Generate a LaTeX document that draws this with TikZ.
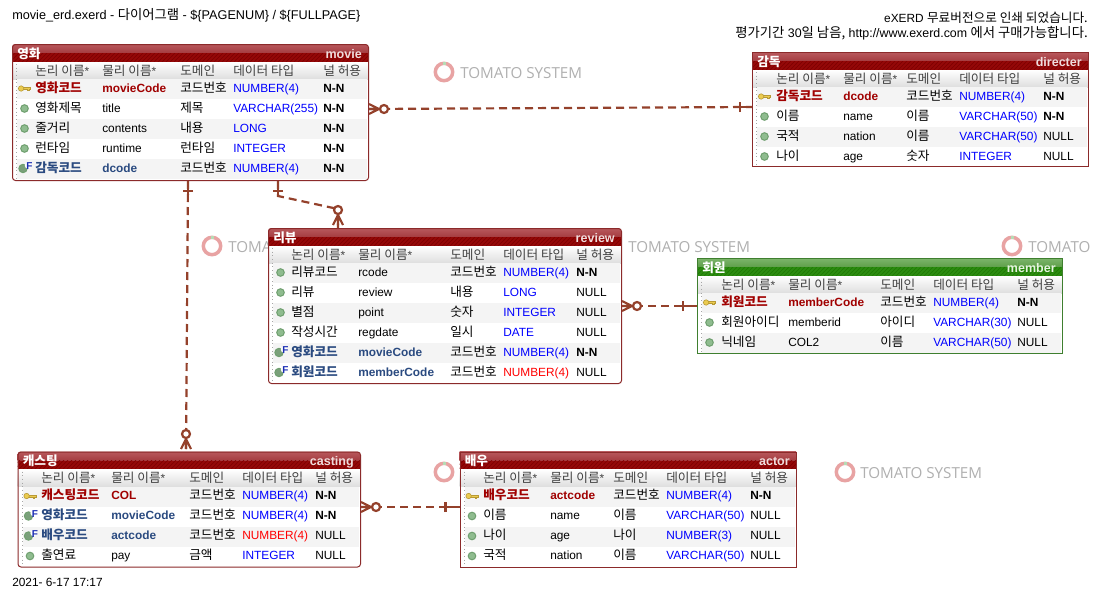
\documentclass[tikz,border=0pt]{standalone}
\usepackage{fontspec}
\setmainfont{Liberation Sans}
\newfontfamily\krfam{Noto Sans CJK KR}
\newfontfamily\wmfam{Open Sans}
\usetikzlibrary{patterns}
\newdimen\pxu \pxu=0.75pt
\newcommand{\K}[1]{{\krfam\fontsize{9.5}{11}\selectfont #1}}
\newcommand{\KB}[1]{{\krfam\fontsize{10}{11}\selectfont #1}}
\newcounter{tn}
\newcounter{rn}
\definecolor{relc}{HTML}{94412B}
\definecolor{pkc}{HTML}{A00000}
\definecolor{fkc}{HTML}{2A4A80}
\definecolor{hdc}{HTML}{404040}
\definecolor{rowc}{HTML}{F4F4F4}
\definecolor{wmc}{HTML}{B0B0B0}
\definecolor{ringc}{HTML}{E8A3A3}
\definecolor{ringg}{HTML}{B5DCB5}
\definecolor{goldc}{HTML}{EBCB50}
\definecolor{goldd}{HTML}{B89A35}
\definecolor{ballc}{HTML}{8FBC8F}
\definecolor{balld}{HTML}{6F9F6F}
\newcommand{\ThemeRed}{\definecolor{tTop}{HTML}{B8595D}\definecolor{tMid}{HTML}{A53C40}\definecolor{tLow}{HTML}{950808}\definecolor{tHatch}{HTML}{7C0000}\definecolor{tBorder}{HTML}{8B2A2A}\definecolor{tEn}{HTML}{F0DCDC}}
\newcommand{\ThemeGreen}{\definecolor{tTop}{HTML}{7CB56C}\definecolor{tMid}{HTML}{5F9F4A}\definecolor{tLow}{HTML}{2C8C10}\definecolor{tHatch}{HTML}{1F7805}\definecolor{tBorder}{HTML}{3F7F2F}\definecolor{tEn}{HTML}{E6F4E0}}
\tikzset{
  lbl/.style={inner sep=0pt,anchor=base west,font=\fontsize{8.9}{11}\selectfont},
  lblr/.style={inner sep=0pt,anchor=base east,font=\fontsize{8.9}{11}\selectfont},
  frame/.style={draw=tBorder,line width=1\pxu,inner sep=0pt,anchor=north west},
  rel/.style={draw=relc,line width=2.2\pxu,dash pattern=on 8\pxu off 5\pxu},
  relend/.style={draw=relc,line width=2.2\pxu},
  pics/crowO/.style={code={
    \draw[relend] (0,-5)--(10,0) (0,5)--(10,0) (0,0)--(11,0);
    \draw[relend,fill=white] (15,0) circle[radius=4];
  }},
  pics/barE/.style={code={
    \draw[relend] (0,0)--(#1+6,0) (#1,-5)--(#1,5);
  }},
}
\newcommand{\T}[4][lbl]{\stepcounter{tn}\node[#1] (t\thetn) at (#2,#3) {#4};}
\newcommand{\Cols}[5]{\def\cA{#1}\def\cB{#2}\def\cC{#3}\def\cD{#4}\def\cE{#5}}
\newcommand{\Ent}[7]{%
  \def\eN{#1}\def\eX{#2}\def\eY{#3}\def\eW{#4}\def\eH{#5}%
  \setcounter{rn}{0}%
  \begin{scope}
    \clip[rounded corners=\rc\pxu] (#2,#3) rectangle (#2+#4,#3+#5);
    \fill[white] (#2,#3) rectangle (#2+#4,#3+#5);
    \shade[top color=tTop,bottom color=tMid] (#2,#3) rectangle (#2+#4,#3+9);
    \fill[tLow] (#2,#3+9) rectangle (#2+#4,#3+18);
    \fill[pattern=north east lines,pattern color=tHatch] (#2,#3+9) rectangle (#2+#4,#3+18);
    \shade[top color=white,bottom color=black!13] (#2,#3+18) rectangle (#2+#4,#3+35);
    \draw[black!35,dotted,line width=1\pxu] (#2+4.5,#3+20) -- (#2+4.5,#3+#5);
  \end{scope}
  \T{#2+5}{#3+14}{\bfseries\color{white}\K{#6}}
  \T[lblr]{#2+#4-6}{#3+14}{\fontsize{9.4}{11}\selectfont\bfseries\color{tEn}#7}
  \T{\cA}{#3+31}{\color{hdc}\K{논리 이름}*}
  \T{\cB}{#3+31}{\color{hdc}\K{물리 이름}*}
  \T{\cC}{#3+31}{\color{hdc}\K{도메인}}
  \T{\cD}{#3+31}{\color{hdc}\K{데이터 타입}}
  \T{\cE}{#3+31}{\color{hdc}\K{널 허용}}
}
\newcommand{\EndEnt}{%
  \node[frame,rounded corners=\rc\pxu,minimum width=\eW\pxu,minimum height=\eH\pxu] (\eN) at (\eX,\eY) {};
}
\newcommand{\IcoKey}[2]{%
  \draw[goldd,fill=goldc,line width=0.6\pxu] (#1-2,#2-1) -- (#1+6,#2-1) -- (#1+6,#2+0.8) -- (#1+4.6,#2+0.8) -- (#1+4.6,#2+2.2) -- (#1+3.2,#2+2.2) -- (#1+3.2,#2+0.8) -- (#1-2,#2+0.8) -- cycle;
  \draw[goldd,fill=goldc,line width=0.6\pxu] (#1-3.4,#2) circle[radius=2.7];
}
\newcommand{\IcoBall}[2]{\draw[balld,fill=ballc,line width=1\pxu] (#1,#2) circle[radius=3.8];}
\newcommand{\IcoFK}[2]{%
  \draw[balld,fill=ballc!85!black,line width=1\pxu] (#1-1.5,#2) circle[radius=4.2];
  \fill[white] (#1+3.5,#2-3) circle[radius=3.2];
  \T{#1+1.5}{#2+1}{\fontsize{7.5}{9}\selectfont\bfseries\color{fkc!60!blue}F}
}
\newcommand{\RowG}[8]{% icon, logical font/colour, phys colour font, log, phys, dom, type, null
  \pgfmathsetmacro{\rT}{\eY+35+20*\value{rn}}%
  \ifodd\value{rn}\else\fill[rowc] (\eX+5,\rT) rectangle (\eX+\eW-1,\rT+20);\fi
  #1{\eX+12.5}{\rT+9.5}
  \T{\cA}{\rT+13}{#2\K{#4}}
  \T{\cB}{\rT+13}{#3#5}
  \T{\cC}{\rT+13}{\K{#6}}
  \T{\cD}{\rT+13}{\color{blue}#7}
  \T{\cE}{\rT+13}{#8}
  \stepcounter{rn}%
}
\newcommand{\RowP}[5]{\RowG{\IcoKey}{\bfseries\color{pkc}}{\bfseries\color{pkc}}{#1}{#2}{#3}{#4}{#5}}
\newcommand{\RowF}[5]{\RowG{\IcoFK}{\bfseries\color{fkc}}{\bfseries\color{fkc}}{#1}{#2}{#3}{#4}{#5}}
\newcommand{\RowN}[5]{\RowG{\IcoBall}{}{}{#1}{#2}{#3}{#4}{#5}}
\newcommand{\NN}{\textbf{N-N}}
\newcommand{\Rd}[1]{\textcolor{red}{#1}}
\newcommand{\WMring}[2]{%
  \draw[ringc,line width=3.5\pxu] (#1,#2) circle[radius=8.7];
  \fill[ringg] (#1-1.5,#2-10.5) rectangle (#1+1.5,#2-7);
}
\newcommand{\WMtext}[3]{\T{#1}{#2}{\wmfam\fontsize{11.4}{14}\selectfont\color{wmc}#3}}
\begin{document}
\begin{tikzpicture}[x=0.75pt,y=-0.75pt]
\useasboundingbox (0,0) rectangle (1100,600);
\fill[white] (0,0) rectangle (1100,600);
% watermarks
\WMring{444}{72}\WMtext{460}{78}{TOMATO SYSTEM}
\WMring{212}{246}\WMtext{228}{252}{TOMA}
\WMtext{628}{252}{TOMATO SYSTEM}
\WMring{1012}{246}\WMtext{1028}{252}{TOMATO}
\WMring{444}{472}
\WMring{845}{472}\WMtext{860}{478}{TOMATO SYSTEM}
% page texts
\T{12}{19}{\fontsize{9.5}{11}\selectfont movie\_erd.exerd - \KB{다이어그램} - \$\{PAGENUM\} / \$\{FULLPAGE\}}
\T[lblr]{1088}{22}{eXERD \K{무료버전으로 인쇄 되었습니다.}}
\T[lblr]{1088}{37}{\fontsize{9.3}{11}\selectfont\KB{평가기간} 30\KB{일 남음,} http://www.exerd.com \KB{에서 구매가능합니다.}}
\T{12}{586}{2021- 6-17 17:17}
% movie
\ThemeRed\def\rc{3}
\Cols{35}{102}{180}{233}{323}
\Ent{movie}{12}{44}{356}{136}{영화}{movie}
\RowP{영화코드}{movieCode}{코드번호}{NUMBER(4)}{\NN}
\RowN{영화제목}{title}{제목}{VARCHAR(255)}{\NN}
\RowN{줄거리}{contents}{내용}{LONG}{\NN}
\RowN{런타임}{runtime}{런타임}{INTEGER}{\NN}
\RowF{감독코드}{dcode}{코드번호}{NUMBER(4)}{\NN}
\EndEnt
% directer
\def\rc{0}
\Cols{776}{843}{906}{959}{1043}
\Ent{directer}{752}{52}{336}{114}{감독}{directer}
\RowP{감독코드}{dcode}{코드번호}{NUMBER(4)}{\NN}
\RowN{이름}{name}{이름}{VARCHAR(50)}{\NN}
\RowN{국적}{nation}{이름}{VARCHAR(50)}{NULL}
\RowN{나이}{age}{숫자}{INTEGER}{NULL}
\EndEnt
% review
\def\rc{3}
\Cols{291}{358}{450}{503}{576}
\Ent{review}{268}{228}{353}{155}{리뷰}{review}
\RowN{리뷰코드}{rcode}{코드번호}{NUMBER(4)}{\NN}
\RowN{리뷰}{review}{내용}{LONG}{NULL}
\RowN{별점}{point}{숫자}{INTEGER}{NULL}
\RowN{작성시간}{regdate}{일시}{DATE}{NULL}
\RowF{영화코드}{movieCode}{코드번호}{NUMBER(4)}{\NN}
\RowF{회원코드}{memberCode}{코드번호}{\Rd{NUMBER(4)}}{NULL}
\EndEnt
% member
\ThemeGreen\def\rc{0}
\Cols{721}{788}{880}{933}{1017}
\Ent{member}{697}{258}{365}{95}{회원}{member}
\RowP{회원코드}{memberCode}{코드번호}{NUMBER(4)}{\NN}
\RowN{회원아이디}{memberid}{아이디}{VARCHAR(30)}{NULL}
\RowN{닉네임}{COL2}{이름}{VARCHAR(50)}{NULL}
\EndEnt
% casting
\ThemeRed\def\rc{3}
\Cols{41}{111}{189}{242}{315}
\Ent{casting}{17.5}{451.5}{342.5}{115}{캐스팅}{casting}
\RowP{캐스팅코드}{COL}{코드번호}{NUMBER(4)}{\NN}
\RowF{영화코드}{movieCode}{코드번호}{NUMBER(4)}{\NN}
\RowF{배우코드}{actcode}{코드번호}{\Rd{NUMBER(4)}}{NULL}
\RowN{출연료}{pay}{금액}{INTEGER}{NULL}
\EndEnt
% actor
\def\rc{0}
\Cols{483}{550}{613}{666}{750}
\Ent{actor}{459.5}{451.5}{336.5}{115}{배우}{actor}
\RowP{배우코드}{actcode}{코드번호}{NUMBER(4)}{\NN}
\RowN{이름}{name}{이름}{VARCHAR(50)}{NULL}
\RowN{나이}{age}{나이}{NUMBER(3)}{NULL}
\RowN{국적}{nation}{이름}{VARCHAR(50)}{NULL}
\EndEnt
% connectors
\draw[rel] (movie.east |- 0,109) -- (directer.west |- 0,107);
\pic at (movie.east |- 0,109) {crowO};
\pic[rotate=180] at (directer.west |- 0,107) {barE=12};
\draw[rel] (188,0 |- movie.south) -- (186,0 |- casting.north);
\pic[rotate=-90] at (188,0 |- movie.south) {barE=10};
\pic[rotate=90] at (186,449) {crowO};
\draw[rel] (278,0 |- movie.south) -- (278,196) -- (338,209) -- (338,0 |- review.north);
\pic[rotate=-90] at (278,0 |- movie.south) {barE=10};
\pic[rotate=90] at (338,225) {crowO};
\draw[rel] (review.east |- 0,306) -- (member.west |- 0,306);
\pic at (review.east |- 0,306) {crowO};
\pic[rotate=180] at (member.west |- 0,306) {barE=14};
\draw[rel] (casting.east |- 0,507) -- (actor.west |- 0,507);
\pic at (casting.east |- 0,507) {crowO};
\pic[rotate=180] at (actor.west |- 0,507) {barE=14};
\end{tikzpicture}
\end{document}
